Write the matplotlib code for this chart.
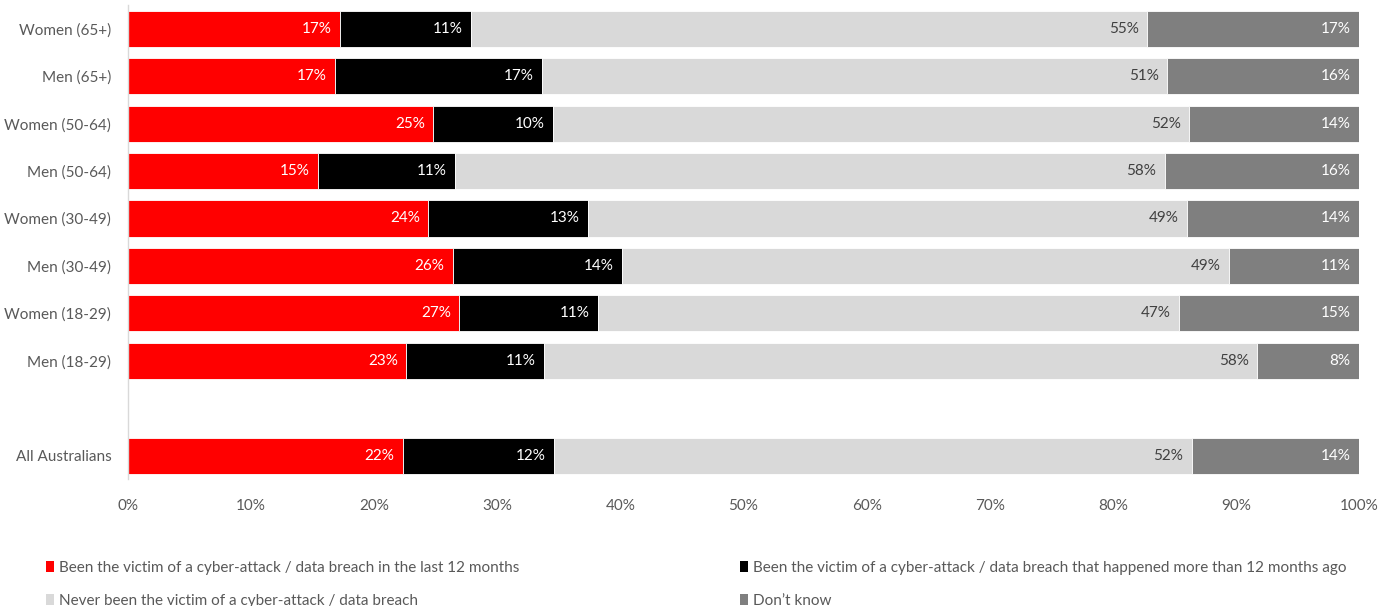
import matplotlib.pyplot as plt
from matplotlib.patches import Patch

# Survey groups, bottom to top (All Australians sits apart at the bottom)
groups = ['All Australians', 'Men (18-29)', 'Women (18-29)', 'Men (30-49)',
          'Women (30-49)', 'Men (50-64)', 'Women (50-64)', 'Men (65+)',
          'Women (65+)']
ypos = [0, 2, 3, 4, 5, 6, 7, 8, 9]

# Share of respondents (%) per answer
recent = [22.3, 22.6, 26.9, 26.4, 24.4, 15.4, 24.8, 16.8, 17.2]
older = [12.3, 11.2, 11.3, 13.7, 13.0, 11.2, 9.7, 16.8, 10.7]
never = [51.8, 57.9, 47.2, 49.3, 48.6, 57.6, 51.7, 50.8, 54.9]
dont_know = [13.6, 8.3, 14.6, 10.6, 14.0, 15.8, 13.8, 15.6, 17.2]

series = [
    ('Been the victim of a cyber-attack / data breach in the last 12 months', recent, '#ff0000', 'white'),
    ('Been the victim of a cyber-attack / data breach that happened more than 12 months ago', older, '#000000', 'white'),
    ('Never been the victim of a cyber-attack / data breach', never, '#d9d9d9', '#404040'),
    ('Don\u2019t know', dont_know, '#7f7f7f', 'white'),
]

plt.rcParams['font.family'] = ['Lato', 'DejaVu Sans']
text_col = '#595959'

fig = plt.figure(figsize=(13.8, 6.06), dpi=100)
ax = fig.add_axes([128 / 1380, 1 - 479.4 / 606, 1231 / 1380, 474.4 / 606])

left = [0.0] * len(groups)
handles = []
for label, vals, col, tcol in series:
    bars = ax.barh(ypos, vals, left=left, height=0.76, color=col,
                   edgecolor='white', linewidth=0.6)
    for b, v in zip(bars, vals):
        ax.annotate(f'{v:.0f}%', (b.get_x() + b.get_width(), b.get_y() + b.get_height() / 2),
                    xytext=(-6, 0), textcoords='offset points', ha='right', va='center',
                    color=tcol, fontsize=11)
    left = [l + v for l, v in zip(left, vals)]
    handles.append(Patch(facecolor=col, label=label))

ax.set_xlim(0, 100)
ax.set_ylim(-0.5, 9.5)
ax.set_xticks(range(0, 101, 10))
ax.set_xticklabels([f'{t}%' for t in range(0, 101, 10)])
ax.set_yticks(ypos)
ax.set_yticklabels(groups)
ax.tick_params(length=0, labelsize=11, colors=text_col)
ax.tick_params(axis='x', pad=14)
ax.tick_params(axis='y', pad=12)
for s in ['top', 'right', 'bottom']:
    ax.spines[s].set_visible(False)
ax.spines['left'].set_color('#d9d9d9')
ax.spines['left'].set_linewidth(1)

# legend: two columns placed separately
leg_kw = dict(frameon=False, fontsize=11, handlelength=0.55, handleheight=0.7,
              handletextpad=0.3, labelspacing=1.22, borderaxespad=0, borderpad=0,
              labelcolor=text_col)
fig.legend(handles=[handles[0], handles[2]], loc='upper left',
           bbox_to_anchor=(46 / 1380, 1 - 561 / 606), **leg_kw)
fig.legend(handles=[handles[1], handles[3]], loc='upper left',
           bbox_to_anchor=(740 / 1380, 1 - 561 / 606), **leg_kw)

fig.savefig('out.png', dpi=100)
